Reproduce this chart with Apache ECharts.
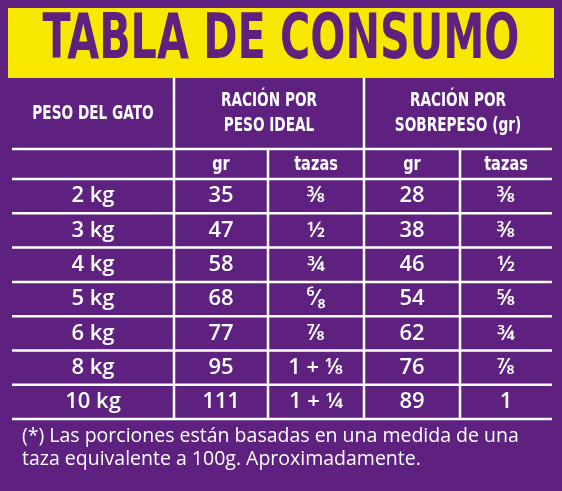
<!DOCTYPE html><html><head><meta charset="utf-8">
<script src="https://cdn.jsdelivr.net/npm/echarts@6/dist/echarts.min.js"></script>
<style>html,body{margin:0;padding:0;background:#5e2180}#c{width:562px;height:491px}</style></head><body><div id="c"></div>
<script>
const title = "TABLA DE CONSUMO";
const weights = ["2 kg","3 kg","4 kg","5 kg","6 kg","8 kg","10 kg"];
const idealGr = ["35","47","58","68","77","95","111"];
const idealTazas = ["⅜","½","¾","⁶⁄₈","⅞","1 + ⅛","1 + ¼"];
const overGr = ["28","38","46","54","62","76","89"];
const overTazas = ["⅜","⅜","½","⅝","¾","⅞","1"];
const headers = ["PESO DEL GATO","RACIÓN POR\nPESO IDEAL","RACIÓN POR\nSOBREPESO (gr)"];
const subHeaders = ["","gr","tazas","gr","tazas"];
const footnote = "(*) Las porciones están basadas en una medida de una\ntaza equivalente a 100g. Aproximadamente.";

const colX = [12,174,268,364,460,552];
const rowY = [149,179];
for (let i=1;i<=weights.length;i++) rowY.push(179+34.3*i);
const W='#ffffff', P='#5e2180';
const els = [];
els.push({type:'rect',shape:{x:8,y:8,width:546,height:70},style:{fill:'#f8e800'}});
els.push({type:'text',x:281,y:42,scaleX:0.74,style:{text:title,x:0,y:0,align:'center',verticalAlign:'middle',fill:P,font:'bold 62px "DejaVu Sans Condensed"'}});
const L=(x1,y1,x2,y2)=>els.push({type:'line',shape:{x1,y1,x2,y2},style:{stroke:W,lineWidth:2.5}});
L(colX[1],78,colX[1],rowY[rowY.length-1]);
L(colX[3],78,colX[3],rowY[rowY.length-1]);
L(colX[2],rowY[0],colX[2],rowY[rowY.length-1]);
L(colX[4],rowY[0],colX[4],rowY[rowY.length-1]);
rowY.forEach(y=>L(colX[0],y,colX[5],y));
const T=(t,x,y,font,sx)=>els.push({type:'text',x,y,scaleX:sx||1,style:{text:t,x:0,y:0,align:'center',verticalAlign:'middle',fill:W,font,lineHeight:25}});
const hf='bold 19px "DejaVu Sans Condensed"';
T(headers[0],(colX[0]+colX[1])/2,114,hf,0.8);
T(headers[1],(colX[1]+colX[3])/2,114,hf,0.8);
T(headers[2],(colX[3]+colX[5])/2,114,hf,0.8);
subHeaders.forEach((s,i)=>{ if(s) T(s,(colX[i]+colX[i+1])/2,165,hf,0.85); });
const df='600 22px "Open Sans"';
const cols=[weights,idealGr,idealTazas,overGr,overTazas];
cols.forEach((arr,c)=>arr.forEach((v,r)=>T(v,(colX[c]+colX[c+1])/2,(rowY[r+1]+rowY[r+2])/2,df)));
els.push({type:'text',style:{text:footnote,x:22,y:448,align:'left',verticalAlign:'middle',fill:W,font:'19.5px "Open Sans"',lineHeight:23}});
const ch=echarts.init(document.getElementById('c'));
ch.setOption({backgroundColor:P,graphic:{elements:els}});
</script></body></html>
